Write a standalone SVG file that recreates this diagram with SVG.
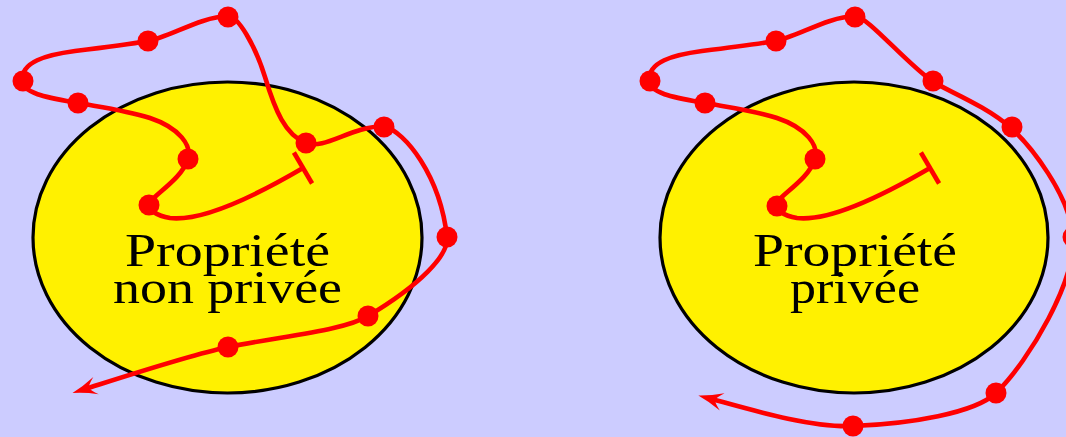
<svg xmlns="http://www.w3.org/2000/svg" width="1066" height="437" viewBox="0 0 1066 437">
<defs>
<style>
.region{fill:#FFF100;stroke:#000;stroke-width:3.2}
.lbl{font-family:"Liberation Serif","Times New Roman",serif;font-size:46px;fill:#000;text-anchor:middle}
.path{fill:none;stroke:#FF0000;stroke-width:4.6;marker-start:url(#bar);marker-end:url(#arr)}
.dot{fill:#FF0000}
</style>
<marker id="arr" markerUnits="userSpaceOnUse" orient="auto" refX="0" refY="0" markerWidth="40" markerHeight="30" overflow="visible">
<path d="M10,0 Q-2,-3 -14.7,-9 Q-8,-3 -7,0 Q-8,3 -14.7,9 Q-2,3 10,0 Z" fill="#FF0000"/>
</marker>
<marker id="bar" markerUnits="userSpaceOnUse" orient="auto" refX="0" refY="0" markerWidth="10" markerHeight="40" overflow="visible">
<path d="M0,-18 L0,18" stroke="#FF0000" stroke-width="4.6" fill="none"/>
</marker>
</defs>
<rect x="0" y="0" width="1066" height="437" fill="#CCCCFF"/>
<g id="node-non-privee">
<ellipse class="region" cx="227.5" cy="237.5" rx="194.5" ry="155.5"/>
<text class="lbl" x="227.5" y="266" textLength="205" lengthAdjust="spacingAndGlyphs">Propriété</text>
<text class="lbl" x="227.5" y="303" textLength="229" lengthAdjust="spacingAndGlyphs">non privée</text>
</g>
<g id="node-privee">
<ellipse class="region" cx="854" cy="237.5" rx="194" ry="155.5"/>
<text class="lbl" x="855" y="266" textLength="204" lengthAdjust="spacingAndGlyphs">Propriété</text>
<text class="lbl" x="855" y="303" textLength="130" lengthAdjust="spacingAndGlyphs">privée</text>
</g>
<g id="connectors">
<path class="path" d="M303,168 C262,192 205,222 170,218 C158,216 146,210 150,202 C158,192 182,178 188,159 C192,146 180,128 150,118 C125,110 100,107 78,103 C50,98 22,94 22,80 C22,62 45,55 75,51 C100,48 125,45 148,41 C170,37 200,17 228,16 C238,16 255,45 265,77 C275,110 285,135 306,143 C325,150 350,127 384,126 C405,132 440,175 447,237 C449,255 420,285 368,316 C345,330 290,335 228,347 C190,355 120,378 82,390"/>
<g class="dot">
<circle cx="149" cy="205" r="10.5"/>
<circle cx="188" cy="159" r="10.5"/>
<circle cx="78" cy="103" r="10.5"/>
<circle cx="23" cy="81" r="10.5"/>
<circle cx="148" cy="41" r="10.5"/>
<circle cx="228" cy="17" r="10.5"/>
<circle cx="306" cy="143" r="10.5"/>
<circle cx="384" cy="127" r="10.5"/>
<circle cx="447" cy="237" r="10.5"/>
<circle cx="368" cy="316" r="10.5"/>
<circle cx="228" cy="347" r="10.5"/>
</g>
<path class="path" d="M930,168 C889,192 832,222 797,218 C785,216 773,210 777,202 C785,192 809,178 815,159 C819,146 807,128 777,118 C752,110 727,107 705,103 C677,98 649,94 649,80 C649,62 672,55 702,51 C727,48 752,45 775,41 C797,37 827,17 855,16 C867,16 905,62 932,81 C945,90 985,105 1011,128 C1030,145 1070,195 1073,237 C1076,280 1030,360 996,393 C975,413 910,424 853,426 C810,428 745,408 708,398"/>
<g class="dot">
<circle cx="777" cy="206" r="10.5"/>
<circle cx="815" cy="159" r="10.5"/>
<circle cx="705" cy="103" r="10.5"/>
<circle cx="650" cy="81" r="10.5"/>
<circle cx="776" cy="41" r="10.5"/>
<circle cx="855" cy="17" r="10.5"/>
<circle cx="933" cy="81" r="10.5"/>
<circle cx="1012" cy="127" r="10.5"/>
<circle cx="1073" cy="237" r="10.5"/>
<circle cx="996" cy="393" r="10.5"/>
<circle cx="853" cy="426" r="10.5"/>
</g>
</g>
</svg>
